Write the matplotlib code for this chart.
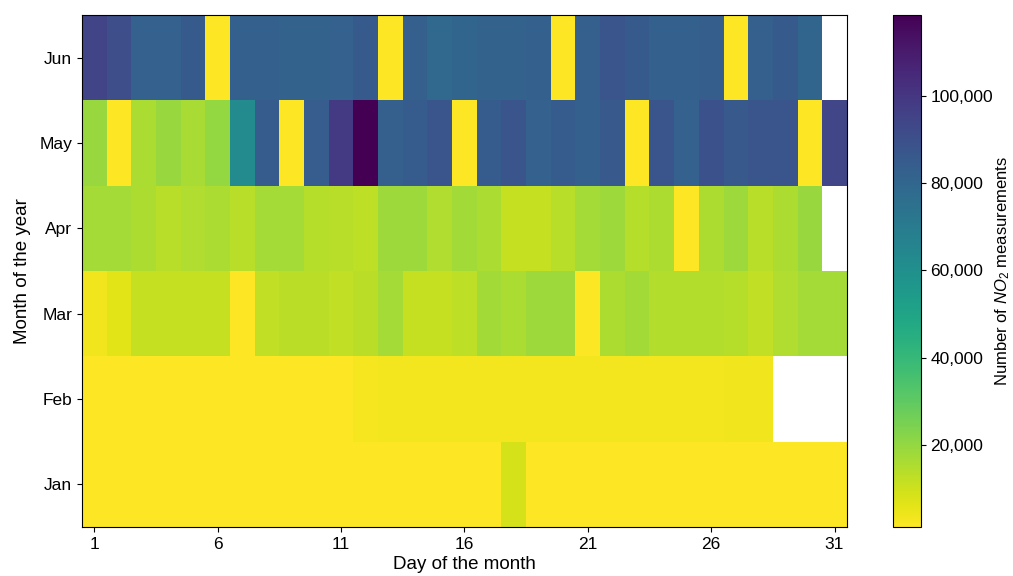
import numpy as np
import matplotlib
matplotlib.use("Agg")
import matplotlib.pyplot as plt
from matplotlib.ticker import FuncFormatter

plt.rcParams['font.family'] = ['Liberation Sans', 'DejaVu Sans']
plt.rcParams['mathtext.fontset'] = 'custom'
plt.rcParams['mathtext.rm'] = 'Liberation Sans'
plt.rcParams['mathtext.it'] = 'Liberation Sans:italic'

months = ["Jan", "Feb", "Mar", "Apr", "May", "Jun"]
days = list(range(1, 32))
nan = np.nan

jan = [1600] * 17 + [8800] + [1600] * 13
feb = [1400] * 11 + [2600] + [3200] * 14 + [3600, 3600] + [nan, nan, nan]
mar = [3500, 6500, 11500, 11500, 11500, 11500, 1500, 12300, 13500, 13500,
       12300, 13500, 16800, 11500, 11500, 13000, 17300, 16000, 18300, 18300,
       2000, 15800, 17300, 14800, 14800, 14800, 14400, 12600, 15300, 17000, 17000]
apr = [17000, 16800, 15500, 14000, 15300, 16300, 14000, 17000, 17000, 14400,
       14000, 12800, 18300, 18300, 15300, 17300, 16300, 11500, 11500, 14000,
       17000, 18300, 14400, 15500, 1500, 15500, 18300, 14000, 15800, 19500, nan]
may = [19400, 1300, 15900, 19400, 16500, 20000, 62800, 85000, 1300, 84300,
       98700, 118500, 83300, 85000, 88000, 1300, 85000, 88000, 82400, 85000,
       83000, 86000, 1300, 87500, 82400, 89200, 86000, 88000, 88000, 1300, 93800]
jun = [95000, 91000, 82700, 82700, 85700, 1200, 83000, 83000, 82100, 82100,
       82700, 85700, 1200, 83300, 79200, 80800, 82100, 82100, 83000, 1200,
       83300, 88000, 85700, 83000, 83000, 83700, 1200, 83300, 85700, 80800, nan]

data = np.array([jan, feb, mar, apr, may, jun], dtype=float)

fig = plt.figure(figsize=(10.13, 5.76), dpi=100)
ax = fig.add_axes([0.081, 0.085, 0.755, 0.889])
cax = fig.add_axes([0.8815, 0.085, 0.0275, 0.889])

x_edges = np.arange(len(days) + 1) + 0.5
y_edges = np.arange(len(months) + 1) - 0.5
masked = np.ma.masked_invalid(data)
mesh = ax.pcolormesh(x_edges, y_edges, masked, cmap="viridis_r",
                     vmin=np.nanmin(data), vmax=np.nanmax(data))

ax.set_xticks(days[::5])
ax.set_xticklabels([str(d) for d in days[::5]])
ax.set_yticks(range(len(months)))
ax.set_yticklabels(months)
ax.set_xlim(0.5, 31.5)
ax.set_ylim(-0.5, 5.5)
ax.set_xlabel("Day of the month", fontsize=13.5, labelpad=3)
ax.set_ylabel("Month of the year", fontsize=13.5, labelpad=6)
ax.tick_params(labelsize=12.5)

cb = fig.colorbar(mesh, cax=cax)
cb.set_ticks([20000, 40000, 60000, 80000, 100000])
cb.ax.yaxis.set_major_formatter(FuncFormatter(lambda v, p: f"{int(v):,}"))
cb.ax.tick_params(labelsize=12.5)
cb.set_label("Number of $NO_2$ measurements", fontsize=12, labelpad=0)

fig.savefig("out.png", dpi=100)
